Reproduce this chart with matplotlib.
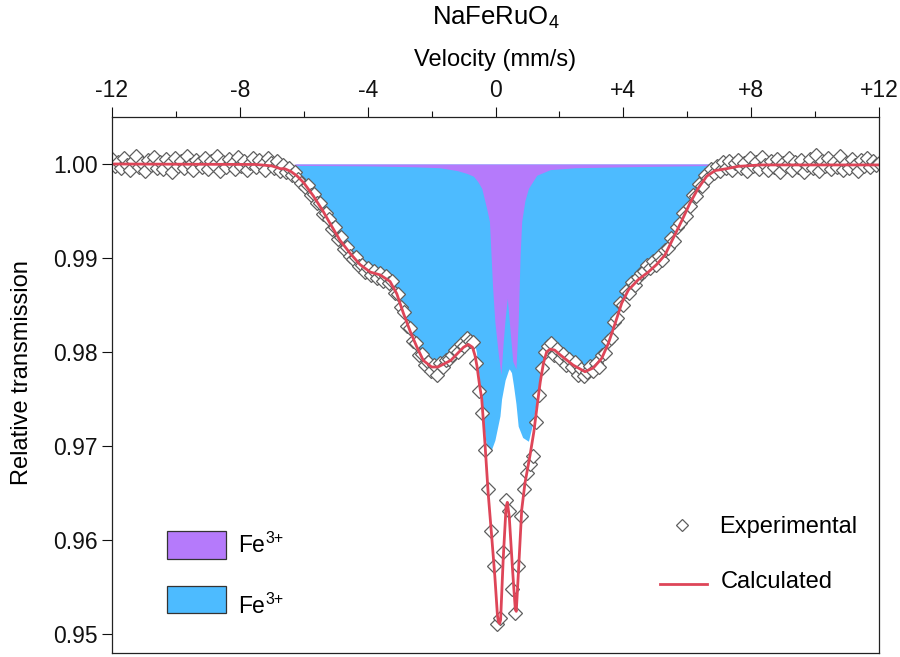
import matplotlib.pyplot as plt
import numpy as np
from matplotlib.patches import Rectangle

plt.rcParams["font.family"] = ["Liberation Sans", "DejaVu Sans"]
plt.rcParams["mathtext.fontset"] = "custom"
plt.rcParams["mathtext.rm"] = "Liberation Sans"
plt.rcParams["mathtext.it"] = "Liberation Sans:italic"

# velocity channels (mm/s), 256 channels across the scan
velocity = np.linspace(-12, 12, 256)

# experimental relative transmission, one value per channel
experimental = [
    1.0005, 0.9998, 1.0002, 0.9996, 1.0006, 0.9999, 0.9994, 1.0003, 1.0008, 0.9997, 1.0001, 0.9993, 1.0004, 0.9999, 1.0007, 0.9996,
    1.0002, 0.9995, 1.0005, 1.0000, 0.9992, 1.0006, 0.9998, 1.0003, 0.9996, 1.0009, 0.9999, 0.9994, 1.0004, 1.0001, 0.9997, 1.0006,
    0.9995, 1.0003, 0.9999, 1.0008, 0.9993, 1.0002, 0.9997, 1.0005, 1.0000, 0.9995, 1.0007, 0.9998, 1.0003, 0.9994, 1.0001, 1.0006,
    0.9997, 1.0004, 0.9999, 0.9994, 1.0006, 1.0001, 0.9996, 1.0003, 0.9993, 0.9999, 0.9991, 0.9996, 0.9988, 0.9992, 0.9984, 0.9980,
    0.9976, 0.9978, 0.9967, 0.9968, 0.9958, 0.9959, 0.9947, 0.9948, 0.9942, 0.9931, 0.9933, 0.9920, 0.9922, 0.9910, 0.9912, 0.9902,
    0.9899, 0.9901, 0.9891, 0.9893, 0.9885, 0.9889, 0.9882, 0.9886, 0.9879, 0.9884, 0.9876, 0.9881, 0.9873, 0.9875, 0.9863, 0.9862,
    0.9848, 0.9842, 0.9828, 0.9825, 0.9812, 0.9809, 0.9797, 0.9798, 0.9786, 0.9789, 0.9780, 0.9786, 0.9776, 0.9788, 0.9784, 0.9791,
    0.9793, 0.9797, 0.9802, 0.9800, 0.9808, 0.9806, 0.9815, 0.9812, 0.9811, 0.9788, 0.9758, 0.9735, 0.9696, 0.9654, 0.9609, 0.9572,
    0.9511, 0.9517, 0.9587, 0.9643, 0.9631, 0.9548, 0.9522, 0.9572, 0.9625, 0.9654, 0.9671, 0.9681, 0.9689, 0.9726, 0.9754, 0.9783,
    0.9800, 0.9806, 0.9809, 0.9797, 0.9803, 0.9792, 0.9798, 0.9786, 0.9793, 0.9784, 0.9789, 0.9775, 0.9782, 0.9774, 0.9779, 0.9785,
    0.9780, 0.9788, 0.9784, 0.9797, 0.9799, 0.9812, 0.9815, 0.9832, 0.9836, 0.9852, 0.9850, 0.9865, 0.9863, 0.9874, 0.9871, 0.9880,
    0.9884, 0.9886, 0.9892, 0.9889, 0.9897, 0.9893, 0.9902, 0.9898, 0.9908, 0.9911, 0.9921, 0.9918, 0.9933, 0.9937, 0.9948, 0.9945,
    0.9955, 0.9967, 0.9966, 0.9979, 0.9977, 0.9988, 0.9985, 0.9995, 0.9990, 0.9998, 0.9993, 1.0002, 0.9996, 1.0003, 0.9994, 1.0001,
    1.0004, 0.9996, 1.0001, 0.9993, 1.0006, 0.9998, 1.0002, 0.9995, 1.0007, 0.9999, 0.9994, 1.0003, 0.9997, 1.0005, 0.9992, 1.0001,
    0.9998, 1.0006, 0.9994, 1.0002, 0.9997, 1.0004, 0.9991, 0.9999, 1.0005, 0.9996, 1.0010, 0.9993, 1.0003, 0.9998, 1.0006, 0.9995,
    1.0002, 0.9997, 1.0008, 0.9994, 1.0001, 0.9996, 1.0005, 0.9999, 0.9993, 1.0004, 0.9998, 1.0006, 0.9997, 1.0003, 0.9999, 1.0001,
]

# calculated (fitted) envelope
calc_v = [-12.0, -7.5, -7.0, -6.73, -6.6, -6.4, -6.2, -6.0, -5.7, -5.4, -5.13, -4.87, -4.55, -4.24,
          -3.92, -3.61, -3.30, -3.09, -2.88, -2.67, -2.47, -2.26, -2.0, -1.8, -1.63, -1.4, -1.2,
          -1.0, -0.85, -0.72, -0.64, -0.58, -0.50, -0.43, -0.33, -0.23, -0.12, -0.02, 0.06, 0.09,
          0.13, 0.16, 0.24, 0.33, 0.37, 0.43, 0.54, 0.62, 0.65, 0.71, 0.82, 0.92, 1.08, 1.2, 1.3,
          1.4, 1.5, 1.6, 1.71, 1.85, 2.02, 2.43, 2.80, 3.06, 3.32, 3.53, 3.74, 3.95, 4.16, 4.47,
          4.78, 5.04, 5.30, 5.56, 5.82, 6.08, 6.34, 6.61, 6.87, 7.23, 7.6, 8.3, 12.0]
calc_t = [1.0000, 0.99995, 0.9998, 0.9995, 0.9995, 0.9992, 0.9987, 0.9980, 0.9966, 0.9950, 0.9934, 0.9919, 0.9905, 0.9893,
          0.9885, 0.9882, 0.9875, 0.9862, 0.9841, 0.9822, 0.9806, 0.9791, 0.9784, 0.9784, 0.9787, 0.9791, 0.9798,
          0.9805, 0.9808, 0.9805, 0.9796, 0.9785, 0.9765, 0.9750, 0.9703, 0.9650, 0.9604, 0.9561, 0.9520, 0.9513,
          0.9511, 0.9515, 0.9579, 0.9635, 0.9640, 0.9625, 0.9565, 0.9526, 0.9524, 0.9561, 0.9632, 0.9660, 0.9690, 0.9715, 0.9742,
          0.9768, 0.9788, 0.9800, 0.9803, 0.9802, 0.9797, 0.9786, 0.9779, 0.9783, 0.9793, 0.9809, 0.9830, 0.9852, 0.9866, 0.9877,
          0.9885, 0.9893, 0.9903, 0.9921, 0.9939, 0.9958, 0.9974, 0.9987, 0.9993, 0.9995, 0.99975, 0.9999, 0.9999]

# broad Fe3+ component (blue)
blue_v = [-6.25, -6.12, -6.0, -5.7, -5.4, -5.13, -4.87, -4.55, -4.24, -3.92, -3.61, -3.30, -3.09, -2.88,
          -2.67, -2.47, -2.26, -2.0, -1.63, -1.32, -1.01, -0.80, -0.69, -0.60, -0.52, -0.48, -0.38,
          -0.28, -0.15, -0.02, 0.14, 0.19, 0.30, 0.40, 0.43, 0.50, 0.56, 0.64, 0.71, 0.85, 1.03,
          1.18, 1.34, 1.42, 1.50, 1.60, 1.75, 2.02, 2.43, 2.80, 3.06, 3.32, 3.53, 3.74, 3.95, 4.16,
          4.47, 4.78, 5.04, 5.30, 5.56, 5.82, 6.08, 6.34, 6.61, 6.80, 6.92]
blue_t = [1.0000, 0.9989, 0.9981, 0.9966, 0.9950, 0.9934, 0.9920, 0.9906, 0.9894, 0.9886, 0.9883, 0.9876, 0.9863, 0.9842,
          0.9823, 0.9807, 0.9792, 0.9785, 0.9789, 0.9793, 0.9806, 0.9811, 0.9814, 0.9800, 0.9775, 0.9761, 0.9726,
          0.9698, 0.9694, 0.9706, 0.9732, 0.9750, 0.9770, 0.9780, 0.9782, 0.9778, 0.9765, 0.9745, 0.9721, 0.9709, 0.9705,
          0.9726, 0.9761, 0.9778, 0.9791, 0.9802, 0.9805, 0.9800, 0.9788, 0.9780, 0.9784, 0.9794, 0.9810, 0.9831, 0.9853, 0.9867,
          0.9878, 0.9886, 0.9894, 0.9904, 0.9922, 0.9940, 0.9959, 0.9975, 0.9988, 0.9995, 1.0000]

# narrow Fe3+ doublet (purple)
purple_v = [-6.3, -4.0, -2.5, -1.74, -1.2, -0.9, -0.69, -0.55, -0.43, -0.38, -0.28, -0.19, -0.09, -0.02,
            0.09, 0.17, 0.24, 0.30, 0.37, 0.45, 0.54, 0.64, 0.71, 0.77, 0.82, 0.92, 1.03, 1.29, 1.71,
            2.5, 4.0, 6.9]
purple_t = [0.99985, 0.9998, 0.9997, 0.9996, 0.9993, 0.9990, 0.9987, 0.9981, 0.9974, 0.9967, 0.9953, 0.9939, 0.9868, 0.9832,
            0.9797, 0.9776, 0.9810, 0.9835, 0.9857, 0.9825, 0.9790, 0.9782, 0.9832, 0.9903, 0.9939, 0.9961, 0.9974, 0.9988, 0.9994,
            0.9996, 0.9997, 0.99985]

blue = "#4DBBFF"
purple = "#B57AFB"
red = "#DE4558"

fig = plt.figure(figsize=(9, 6.57), dpi=100)
ax = fig.add_axes([112 / 900, 1 - 652.7 / 657, 767 / 900, 535.7 / 657])

ax.fill_between(blue_v, blue_t, 1.0, color=blue, lw=0)
ax.fill_between(purple_v, purple_t, 1.0, color=purple, lw=0)
ax.plot(velocity, experimental, ls="none", marker="D", ms=7, mfc="white", mec="#5f5f5f", mew=0.9)
ax.plot(calc_v, calc_t, color=red, lw=2)

ax.set_xlim(-12, 12)
ax.set_ylim(0.9480, 1.0050)
ax.xaxis.tick_top()
ax.set_xticks([-12, -8, -4, 0, 4, 8, 12])
ax.set_xticklabels(["-12", "-8", "-4", "0", "+4", "+8", "+12"])
ax.set_xticks([-10, -6, -2, 2, 6, 10], minor=True)
ax.set_yticks([0.95, 0.96, 0.97, 0.98, 0.99, 1.00])
ax.set_yticklabels(["0.95", "0.96", "0.97", "0.98", "0.99", "1.00"])
ax.tick_params(axis="x", which="major", length=7, width=0.8, labelsize=16.5, pad=4, colors="#111")
ax.tick_params(axis="x", which="minor", length=4, width=0.8, colors="#111")
ax.tick_params(axis="y", length=7, width=0.8, labelsize=16.5, pad=3, colors="#111")
for sp in ax.spines.values():
    sp.set_linewidth(0.9)
    sp.set_color("#222")

fig.text(495.5 / 900, 1 - 18 / 657, "NaFeRuO$_4$", ha="center", va="center", fontsize=18.5)
fig.text(495.5 / 900, 1 - 60 / 657, "Velocity (mm/s)", ha="center", va="center", fontsize=17)
fig.text(22 / 900, 1 - 373 / 657, "Relative transmission", rotation=90, ha="center", va="center", fontsize=17)

# legend for the components (left)
ax.add_patch(Rectangle((0.0717, 0.1749), 0.0769, 0.0523, transform=ax.transAxes,
                       facecolor=purple, edgecolor="#333", lw=0.9, clip_on=False))
ax.add_patch(Rectangle((0.0717, 0.0741), 0.0769, 0.0504, transform=ax.transAxes,
                       facecolor=blue, edgecolor="#333", lw=0.9, clip_on=False))
for base in (0.188, 0.0741):
    ax.annotate("Fe", xy=(0.1643, base), xycoords="axes fraction", ha="left", va="baseline", fontsize=16.5)
    ax.annotate("3+", xy=(0.1643, base), xycoords="axes fraction", xytext=(19.5, 6.5),
                textcoords="offset points", ha="left", va="baseline", fontsize=11.5)

# legend for the data and fit (right)
ax.plot([0.7432], [0.2384], transform=ax.transAxes, marker="D", ms=6.5, mfc="white",
        mec="#5f5f5f", mew=0.9, clip_on=False)
ax.text(0.7914, 0.2347, "Experimental", transform=ax.transAxes, ha="left", va="center", fontsize=17)
ax.plot([0.7145, 0.7758], [0.1282, 0.1282], transform=ax.transAxes, color=red, lw=2)
ax.text(0.794, 0.132, "Calculated", transform=ax.transAxes, ha="left", va="center", fontsize=17)

fig.savefig("out.png", dpi=100)
